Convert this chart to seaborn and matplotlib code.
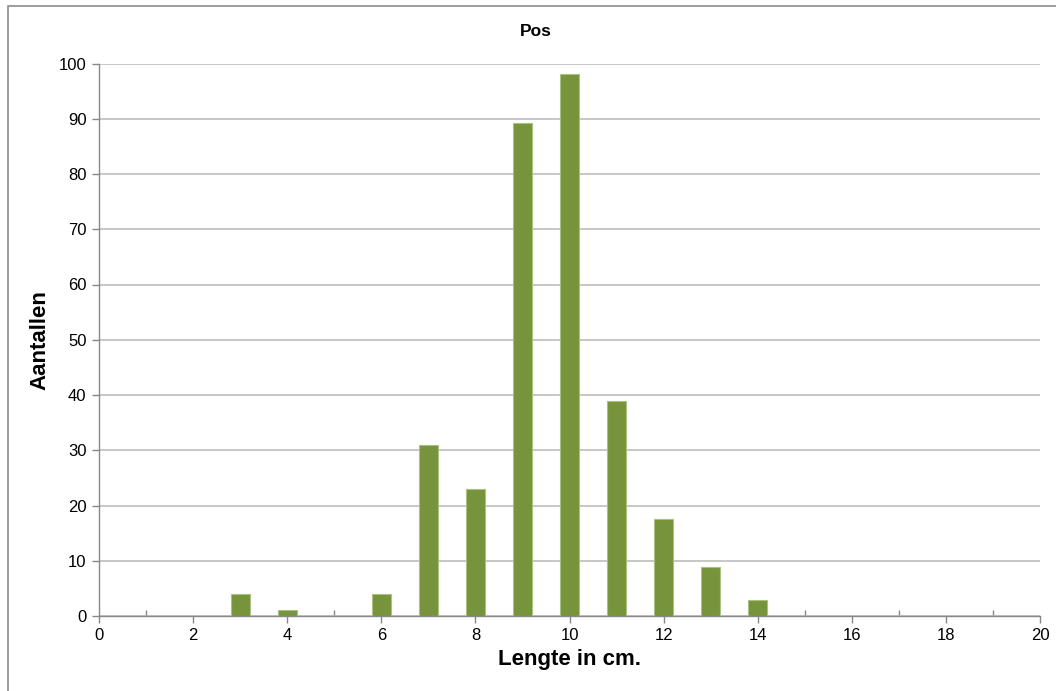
import matplotlib
matplotlib.use("Agg")
import matplotlib.pyplot as plt
import seaborn as sns
import pandas as pd
from matplotlib.ticker import MultipleLocator
from matplotlib.patches import Rectangle

lengths = [3, 4, 6, 7, 8, 9, 10, 11, 12, 13, 14]
counts = [3.9, 1.0, 3.9, 31.0, 23.0, 89.2, 98.1, 38.9, 17.6, 8.9, 2.9]
title = "Pos"
xlabel = "Lengte in cm."
ylabel = "Aantallen"

df = pd.DataFrame({"lengte": lengths, "aantal": counts})

sns.set_theme(style="white")
plt.rcParams["font.family"] = ["Liberation Sans", "DejaVu Sans"]
plt.rcParams["text.color"] = "black"
plt.rcParams["axes.labelcolor"] = "black"
plt.rcParams["xtick.labelcolor"] = "black"
plt.rcParams["ytick.labelcolor"] = "black"

fig = plt.figure(figsize=(10.56, 6.91), dpi=100)
ax = fig.add_axes([99/1056, 1-616/691, (1040-99)/1056, (616-63.5)/691])

ax.bar(df["lengte"], df["aantal"], width=0.40, color="#77933C",
       edgecolor="#A9C27F", linewidth=0.8, zorder=3)

ax.set_xlim(0, 20)
ax.set_ylim(0, 100)
ax.xaxis.set_major_locator(MultipleLocator(2))
ax.xaxis.set_minor_locator(MultipleLocator(1))
ax.yaxis.set_major_locator(MultipleLocator(10))
ax.grid(axis="y", color="#BEBEBE", linewidth=1.2, zorder=0)

for s in ["top", "right"]:
    ax.spines[s].set_visible(False)
for s in ["left", "bottom"]:
    ax.spines[s].set_color("#888888")
    ax.spines[s].set_linewidth(1.0)

ax.tick_params(axis="x", which="major", direction="out", length=5, color="#888888",
               width=1, labelsize=12, pad=4, bottom=True, labelcolor="black")
ax.tick_params(axis="x", which="minor", direction="in", length=4, color="#888888",
               width=1, bottom=True)
ax.tick_params(axis="y", which="major", direction="out", length=5, color="#888888",
               width=1, labelsize=12, pad=4, left=True, labelcolor="black")

ax.set_xlabel(xlabel, fontsize=16, fontweight="bold", labelpad=4, color="black")
ax.set_ylabel(ylabel, fontsize=16, fontweight="bold", labelpad=6, color="black")
fig.text(536/1056, 1-31/691, title, ha="center", va="center",
         fontsize=12.5, fontweight="bold", color="black")

fig.patches.append(Rectangle((8/1056, -0.1), 1.2, 1-6/691+0.1, transform=fig.transFigure,
                             fill=False, edgecolor="#8C8C8C", linewidth=1.2))

fig.savefig("out.png", dpi=100)
